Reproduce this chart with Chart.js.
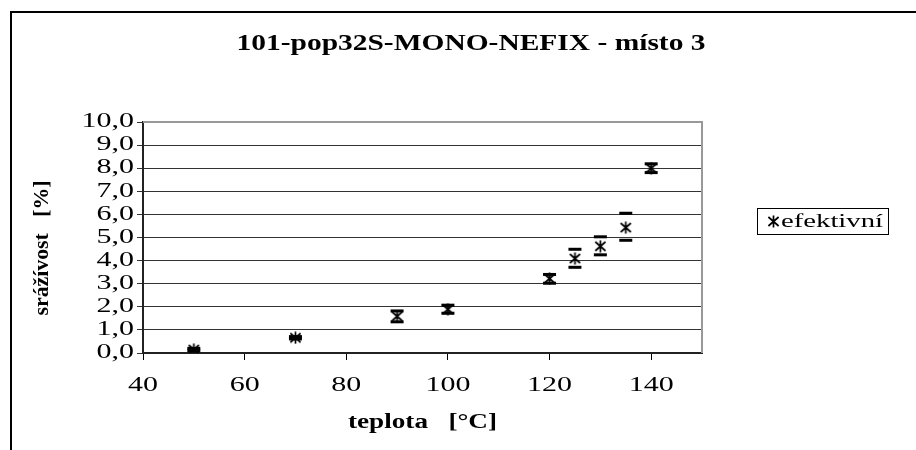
<!DOCTYPE html>
<html>
<head>
<meta charset="utf-8">
<script src="https://cdn.jsdelivr.net/npm/chart.js@4.4.0/dist/chart.umd.min.js"></script>
<style>
  html, body { margin: 0; padding: 0; background: #fff; overflow: hidden; }
  #wrap { position: relative; width: 916px; height: 450px; }
  #frame { position: absolute; left: 10px; top: 11px; width: 1000px; height: 1000px; border: 2px solid #000; }
  canvas { position: absolute; left: 0; top: 0; }
</style>
</head>
<body>
<div id="wrap">
  <div id="frame"></div>
  <canvas id="chart" width="916" height="450"></canvas>
</div>
<script>
// data
const temperatures = [50, 70, 90, 100, 120, 125, 130, 135, 140];
const shrinkage = [0.15, 0.66, 1.59, 1.89, 3.22, 4.09, 4.62, 5.43, 8.0];
const shrinkageLow = [0.10, 0.61, 1.35, 1.72, 3.02, 3.71, 4.25, 4.88, 7.81];
const shrinkageHigh = [0.20, 0.71, 1.82, 2.07, 3.40, 4.49, 5.03, 6.05, 8.19];
const xTicks = [40, 60, 80, 100, 120, 140];
const yTicks = [0, 1, 2, 3, 4, 5, 6, 7, 8, 9, 10];
const seriesName = 'efektivní';
const chartTitle = '101-pop32S-MONO-NEFIX - místo 3';
const xTitle = 'teplota   [°C]';
const yTitle = 'srážívost   [%]';

const SERIF = "'Liberation Serif', 'Times New Roman', serif";

// the old excel export draws its text wide, so text is stretched along the baseline
function wideText(ctx, text, x, y, opts) {
  ctx.save();
  ctx.font = opts.font;
  ctx.fillStyle = '#000';
  ctx.textAlign = opts.align || 'left';
  ctx.textBaseline = 'middle';
  const k = opts.width ? opts.width / ctx.measureText(text).width : (opts.k || 1);
  ctx.translate(x, y);
  if (opts.rotate) ctx.rotate(opts.rotate);
  ctx.scale(k, 1);
  ctx.fillText(text, 0, 0);
  ctx.restore();
}

// excel-like star marker: x plus a vertical stroke
function makeStar(size) {
  const c = document.createElement('canvas');
  c.width = size;
  c.height = size;
  const g = c.getContext('2d');
  const m = size / 2, r = size / 2 - 0.5;
  g.strokeStyle = '#000';
  g.lineWidth = 1.7;
  g.beginPath();
  g.moveTo(m, m - r); g.lineTo(m, m + r);
  g.moveTo(m - r * 0.85, m - r * 0.75); g.lineTo(m + r * 0.85, m + r * 0.75);
  g.moveTo(m - r * 0.85, m + r * 0.75); g.lineTo(m + r * 0.85, m - r * 0.75);
  g.stroke();
  return c;
}
const star = makeStar(13);

const plotFrame = {
  id: 'plotFrame',
  beforeDatasetsDraw(chart) {
    const { ctx, chartArea: a } = chart;
    ctx.save();
    ctx.strokeStyle = '#999';
    ctx.lineWidth = 2;
    ctx.beginPath();
    ctx.moveTo(a.left, a.top);
    ctx.lineTo(a.right, a.top);
    ctx.lineTo(a.right, a.bottom);
    ctx.stroke();
    ctx.restore();
  }
};

const errorCaps = {
  id: 'errorCaps',
  afterDatasetsDraw(chart) {
    const { ctx, scales: { x, y } } = chart;
    ctx.save();
    ctx.fillStyle = '#000';
    temperatures.forEach((t, i) => {
      const px = x.getPixelForValue(t);
      [shrinkageLow[i], shrinkageHigh[i]].forEach(v => {
        const py = y.getPixelForValue(v);
        ctx.fillRect(px - 6.5, py - 1.5, 13, 3);
      });
    });
    ctx.restore();
  }
};

const texts = {
  id: 'texts',
  afterDraw(chart) {
    const { ctx, scales: { x, y } } = chart;
    const tickFont = '20px ' + SERIF;
    y.ticks.forEach(t => {
      wideText(ctx, t.value.toFixed(1).replace('.', ','), y.right - 9, y.getPixelForValue(t.value),
        { font: tickFont, align: 'right', k: 1.5 });
    });
    x.ticks.forEach(t => {
      wideText(ctx, String(t.value), x.getPixelForValue(t.value), x.top + 33,
        { font: tickFont, align: 'center', k: 1.5 });
    });
    wideText(ctx, chartTitle, 471, 44, { font: 'bold 24px ' + SERIF, align: 'center', width: 469 });
    wideText(ctx, xTitle, (x.left + x.right) / 2, 423, { font: 'bold 20px ' + SERIF, align: 'center', width: 149 });
    wideText(ctx, yTitle, 43, 248, { font: 'bold 20px ' + SERIF, align: 'center', width: 135, rotate: -Math.PI / 2 });

    // legend
    ctx.save();
    ctx.strokeStyle = '#000';
    ctx.lineWidth = 1;
    ctx.strokeRect(757.5, 208.5, 131, 26);
    ctx.drawImage(star, 767, 215);
    ctx.restore();
    wideText(ctx, seriesName, 781, 222, { font: '18px ' + SERIF, width: 102 });
  }
};

new Chart(document.getElementById('chart'), {
  type: 'scatter',
  data: {
    datasets: [{
      label: seriesName,
      data: temperatures.map((t, i) => ({ x: t, y: shrinkage[i] })),
      pointStyle: star,
      pointRadius: 7,
      showLine: false
    }]
  },
  options: {
    responsive: false,
    animation: false,
    layout: { padding: { left: 0, right: 214, top: 122, bottom: 0 } },
    plugins: {
      legend: { display: false },
      tooltip: { enabled: false },
      title: { display: false }
    },
    scales: {
      x: {
        type: 'linear',
        min: 40,
        max: 150,
        afterBuildTicks: s => { s.ticks = xTicks.map(v => ({ value: v })); },
        afterFit: s => { s.height = 97; },
        grid: { drawOnChartArea: false, color: '#000', tickLength: 7 },
        border: { color: '#222', width: 2 },
        ticks: { display: false, autoSkip: false }
      },
      y: {
        min: 0,
        max: 10,
        afterBuildTicks: s => { s.ticks = yTicks.map(v => ({ value: v })); },
        afterFit: s => { s.width = 143; },
        grid: { color: '#333', tickLength: 6 },
        border: { color: '#222', width: 2 },
        ticks: { display: false, autoSkip: false }
      }
    }
  },
  plugins: [plotFrame, errorCaps, texts]
});
</script>
</body>
</html>
